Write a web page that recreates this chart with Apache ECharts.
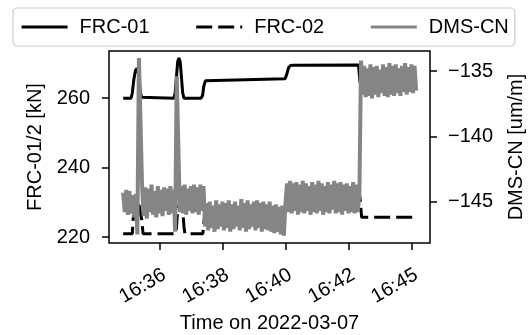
<!DOCTYPE html>
<html>
<head>
<meta charset="utf-8">
<script src="https://cdn.jsdelivr.net/npm/echarts@6/dist/echarts.min.js"></script>
<style>
  html, body { margin: 0; padding: 0; background: #fff; }
  #chart { width: 528px; height: 335px; }
</style>
</head>
<body>
<div id="chart"></div>
<script>
// time is in minutes after 16:00
const xTickValues = [36, 38, 40, 42, 44];
const xTickLabels = ["16:36", "16:38", "16:40", "16:42", "16:45"];
const leftTicks = [220, 240, 260];
const rightTicks = [-145, -140, -135];

const frc01Time = [34.83, 35.08, 35.12, 35.17, 35.22, 35.27, 35.32, 35.37, 35.41, 35.45,
  36.44, 36.48, 36.52, 36.56, 36.60, 36.64, 36.68, 36.72, 36.76,
  37.30, 37.35, 37.39, 37.44, 37.50, 39.97, 40.02, 40.08, 40.14, 40.22, 42.30, 42.35, 44.13];
const frc01 = [260, 260, 261.5, 265.5, 268, 268.6, 267, 262, 260.3, 260,
  260, 261.5, 266, 270.5, 271.6, 270.5, 266, 261.5, 260,
  260, 260.8, 263.5, 265, 265.3, 265.6, 266.8, 268.8, 269.4, 269.5, 269.6, 264.5, 264.5];

const frc02Time = [34.83, 35.12, 35.16, 35.24, 35.34, 35.42, 35.46,
  36.51, 36.56, 36.63, 36.71, 36.76, 36.79, 37.36, 37.43,
  39.97, 40.04, 40.10, 42.33, 42.40, 44.10];
const frc02 = [221, 221, 227, 230, 229, 225, 221,
  221, 228, 230, 229, 223, 221, 221, 228,
  228.2, 232.5, 233, 233, 225.7, 225.7];

// DMS-CN sampled every 0.05 min from 16:34:50
const dmsStart = 34.83;
const dmsStep = 0.05;
const dms = [
  -144.3, -145.8, -144.1, -146.0, -144.2, -145.9, -144.5, -146.2, -144.4,
  -147.5, -134.0, -134.1,
  -143.8, -146.1, -143.9, -146.3, -144.0, -145.8, -143.7, -146.0, -144.2, -146.2,
  -143.8, -145.9, -144.1, -146.1, -143.9, -145.7, -144.0, -146.0, -143.8, -145.9, -144.1,
  -147.3, -135.4, -135.5,
  -145.8, -143.8, -145.9, -143.7, -146.0, -144.0, -145.7, -143.8,
  -145.9, -143.7, -145.8, -143.9, -146.0, -143.7, -145.7, -143.8,
  -146.9, -145.1, -147.2, -145.0, -147.0, -145.3, -147.3, -144.9, -147.1, -145.2,
  -146.9, -145.0, -147.2, -145.1, -147.0, -144.9, -147.3, -145.2, -147.1, -145.0,
  -146.9, -145.3, -147.2, -144.8, -147.0, -145.1, -147.3, -144.9, -147.1, -145.2,
  -146.9, -145.0, -147.2, -144.9, -147.0, -145.1, -147.3, -145.0, -147.1, -145.2,
  -147.2, -145.0, -147.3, -145.3, -147.4, -145.2, -147.3, -145.4, -147.5, -145.3,
  -147.6, -145.2,
  -143.6, -145.8, -143.4, -145.9, -143.6, -145.7, -143.5, -146.0, -143.7, -145.8,
  -143.4, -145.9, -143.6, -145.7, -143.8, -146.0, -143.5, -145.8, -143.7, -145.9,
  -143.4, -145.7, -143.6, -146.0, -143.8, -145.8, -143.5, -145.9, -143.7, -145.6,
  -143.4, -145.9, -143.6, -145.8, -143.5, -146.0, -143.7, -145.7, -143.6, -145.9,
  -143.8, -145.8, -143.5, -145.9, -143.7, -145.8, -144.2,
  -134.2, -136.8, -134.6, -137.0, -134.8, -136.9, -134.5, -137.1, -134.7, -136.8,
  -134.6, -137.0, -134.9, -136.7, -134.5, -136.9, -134.7, -137.0, -134.4, -136.8,
  -134.6, -136.9, -134.5, -136.7, -134.8, -136.9, -134.6, -136.6, -134.4, -136.8,
  -134.7, -136.6, -134.5, -136.7, -134.6, -136.5
];

const FONT = '"Liberation Sans", Arial, sans-serif';
const chart = echarts.init(document.getElementById("chart"));

const tickStyle = { color: "#000", width: 1.5 };
const labelStyle = { fontSize: 20, color: "#000", fontFamily: FONT };

const option = {
  animation: false,
  textStyle: { fontFamily: FONT, color: "#000" },
  legend: {
    left: 13,
    top: 8,
    padding: [9, 6, 9, 7],
    itemGap: 45,
    itemWidth: 46,
    itemHeight: 14,
    borderColor: "#cccccc",
    borderWidth: 1.2,
    borderRadius: 4,
    itemStyle: { opacity: 0 },
    lineStyle: { width: 3.2 },
    textStyle: { fontSize: 20, color: "#000", fontFamily: FONT, padding: [0, 0, 0, 7] },
    data: ["FRC-01", "FRC-02", "DMS-CN"],
  },
  grid: {
    left: 109,
    right: 98,
    top: 51,
    bottom: 92,
    outerBoundsMode: "none",
    show: true,
    borderColor: "#000",
    borderWidth: 1.5,
  },
  xAxis: {
    type: "value",
    min: 34.38,
    max: 44.57,
    axisLine: { show: false },
    splitLine: { show: false },
    axisTick: { length: 7, lineStyle: tickStyle, customValues: xTickValues },
    axisLabel: {
      ...labelStyle,
      customValues: xTickValues,
      rotate: 30,
      margin: 33,
      padding: [0, -5, 0, 0],
      formatter: (v) => {
        const i = xTickValues.findIndex((t) => Math.abs(t - v) < 1e-6);
        return i >= 0 ? xTickLabels[i] : "";
      },
    },
    name: "Time on 2022-03-07",
    nameLocation: "middle",
    nameGap: 63,
    nameTextStyle: labelStyle,
  },
  yAxis: [
    {
      type: "value",
      position: "left",
      min: 218.3,
      max: 273.6,
      axisLine: { show: false },
      splitLine: { show: false },
      axisTick: { length: 7, lineStyle: tickStyle, customValues: leftTicks },
      axisLabel: { ...labelStyle, customValues: leftTicks, margin: 19 },
      name: "FRC-01/2 [kN]",
      nameLocation: "middle",
      nameRotate: 90,
      nameGap: 62,
      nameTextStyle: labelStyle,
    },
    {
      type: "value",
      position: "right",
      min: -148.16,
      max: -133.47,
      axisLine: { show: false },
      splitLine: { show: false },
      axisTick: { length: 7, lineStyle: tickStyle, customValues: rightTicks },
      axisLabel: {
        ...labelStyle,
        customValues: rightTicks,
        margin: 18,
        formatter: (v) => (v < 0 ? "\u2212" + Math.abs(v) : String(v)),
      },
      name: "DMS-CN [um/m]",
      nameLocation: "middle",
      nameRotate: 90,
      nameGap: 76,
      nameTextStyle: labelStyle,
    },
  ],
  series: [
    {
      name: "FRC-01",
      type: "line",
      yAxisIndex: 0,
      symbol: "none",
      data: frc01Time.map((t, i) => [t, frc01[i]]),
      lineStyle: { color: "#000", width: 3 },
      itemStyle: { color: "#000", opacity: 0 },
    },
    {
      name: "FRC-02",
      type: "line",
      yAxisIndex: 0,
      symbol: "none",
      data: frc02Time.map((t, i) => [t, frc02[i]]),
      lineStyle: { color: "#000", width: 3, type: [16, 6] },
      itemStyle: { color: "#000", opacity: 0 },
    },
    {
      name: "DMS-CN",
      type: "line",
      yAxisIndex: 1,
      symbol: "none",
      data: dms.map((v, i) => [dmsStart + i * dmsStep, v]),
      lineStyle: { color: "#858585", width: 4 },
      itemStyle: { color: "#858585", opacity: 0 },
    },
  ],
};

chart.setOption(option);
</script>
</body>
</html>
